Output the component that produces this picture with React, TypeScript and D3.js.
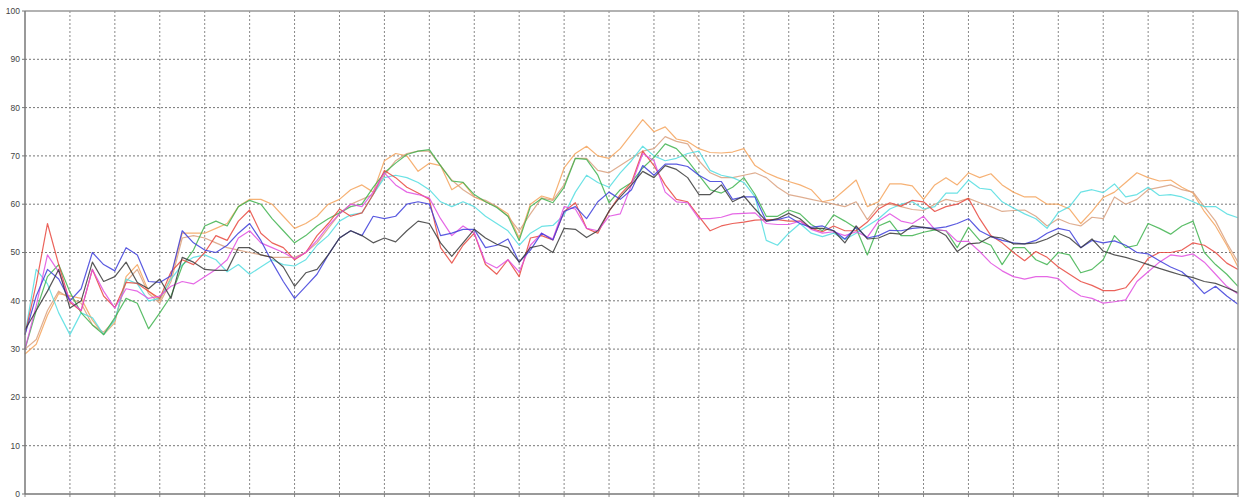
import React from "react";
import * as d3 from "d3";

const yTicks = [0, 10, 20, 30, 40, 50, 60, 70, 80, 90, 100];

const orange = [
  29, 31, 37, 41.5, 41, 40.5, 36, 33, 35.5, 45, 47.5, 42, 40,
  45, 54, 54, 54, 55, 56, 59.5, 61, 61, 60, 57.5, 55,
  56, 57.5, 60, 61, 63, 64, 62.5, 69, 70.5, 70, 66.8, 68.5, 68, 63, 64.5, 61.5,
  60.5, 59.5, 58, 53, 60, 61.7, 61, 67.5, 70.5, 72, 70, 69.5, 71.5, 74.5, 77.5, 75, 76,
  73.5, 73, 71.5, 70.7, 70.6, 70.8, 71.5, 68, 66.5, 65.5, 64.7, 64, 63, 60.5, 61, 63, 65,
  59.5, 60.5, 64.2, 64.2, 63.8, 61, 64, 65.5, 64, 66.5, 65.5, 66.3, 64, 62.5, 61.5, 61.5, 60, 60,
  59, 56, 58.5, 61.4, 62.5, 64.5, 66.5, 65.5, 64.8, 65, 63.5, 62.3, 58.5, 55.5, 51.5, 47,
];

const tan = [
  30, 32, 38, 42, 40.5, 39.5, 35, 33.5, 36, 44, 46.5, 41.5, 39.5,
  44, 53, 53.5, 53, 52, 51, 50.5, 50, 49.5, 49, 49, 49,
  50, 52, 55, 58, 60, 61, 62, 66, 69, 70.5, 71, 71, 68, 65, 63, 61.5,
  60.8, 59.5, 57.5, 54.5, 58, 61.3, 60.8, 64, 69.5, 69.5, 67, 66.5, 68, 69.5, 71, 71.5, 74,
  73, 72.5, 69, 66.5, 65.5, 65.5, 66, 66.5, 65.5, 63.5, 62, 61.5, 61, 60.5, 60, 59.5, 60.5,
  56.8, 59.8, 60, 59.5, 58.9, 58.7, 60, 61, 60.5, 61.2, 60.3, 59.5, 58.5, 58.7, 58.8, 57.5, 55.5, 57,
  56, 55.5, 57.3, 57, 61.5, 60, 61, 63, 63.5, 64, 63, 62.5, 59.5, 56.5, 52, 48,
];

const green = [
  30, 38, 45, 47.5, 41.8, 37.5, 35, 33, 36.5, 40.5, 39.5, 34.2, 37.5,
  41, 47.2, 50.5, 55.5, 56.5, 55.5, 59.5, 60.8, 60, 57, 54.5, 52,
  53.5, 55.5, 57, 58.2, 59.5, 60, 63.5, 66.5, 68.5, 70.3, 71, 71.3, 68, 64.8, 64.5, 62,
  60.5, 59.3, 57.5, 52.5, 59.5, 61.2, 60.3, 63.5, 69.5, 69.3, 66, 60.3, 63, 64.5, 67.5, 69.7, 72.5,
  71.5, 69, 66, 63, 62.3, 63.5, 65.5, 62, 57.5, 57.5, 58.8, 58, 55.8, 54.5, 57.8, 56.5, 55,
  49.5, 55.5, 56.5, 53.5, 53.5, 54.2, 54.7, 54.5, 51, 55.2, 52.5, 51.5, 47.5, 51, 51, 48.5, 47.5, 50,
  49.5, 45.8, 46.5, 48.5, 53.5, 51, 51.5, 56, 55, 53.8, 55.5, 56.5, 50, 47.5, 45.5, 43,
];

const cyan = [
  33, 46.5, 43.5, 37.5, 33, 37.5, 36.5, 33, 36, 44.5, 43.5, 40, 40.5,
  44.5, 47.5, 49, 49.5, 48.5, 46, 47.5, 45.5, 47, 48.5, 47.5, 47.2,
  48.5, 51.5, 53.5, 56.5, 57.8, 58.2, 62, 65.5, 66, 65.5, 64.5, 63, 60.5, 59.5, 60.5, 59.5,
  57.5, 56, 54.5, 51.5, 54, 55.4, 55.6, 57.8, 62.5, 66, 64.5, 63.5, 66.5, 69, 72, 70, 69,
  69.5, 70.5, 71, 67, 66, 65.5, 64.5, 61.5, 52.5, 51.5, 54, 56, 54, 53.3, 54, 52.7, 54,
  55.5, 57, 59, 60, 60.5, 59, 59.5, 62.3, 62.3, 65, 63.3, 63, 60.5, 59.2, 58, 57, 55, 58.3,
  59.5, 62.5, 63, 62.4, 64.2, 61.5, 62, 63.5, 61.8, 62, 61.5, 60.5, 59.5, 59.5, 58, 57.2,
];

const red = [
  33, 43.5, 56, 47.5, 39.7, 37.9, 46.5, 41, 38.6, 43.8, 43.6, 42, 40.5,
  46, 48.5, 47.5, 50, 53.5, 52.5, 56.5, 58.8, 54, 52, 51, 48.5,
  50, 53.5, 56, 59, 57.5, 58.2, 62, 67, 65.5, 63.5, 62.3, 61, 51, 47.8, 51.5, 54,
  47.5, 45.5, 48.5, 45, 53, 53.5, 52.6, 58.5, 60.3, 55, 54, 58.5, 62, 64.5, 71, 68, 64,
  61, 60.5, 57.5, 54.5, 55.5, 56, 56.3, 56.7, 56.8, 56.8, 56.5, 56.5, 55, 54.3, 55.5, 54.5, 54.5,
  56.3, 59, 60.3, 59.6, 60.8, 60.5, 58.5, 59.5, 60, 61.2, 57, 53.5, 52, 50, 48.3, 50.2, 49, 47,
  45.5, 44, 43.2, 42.1, 42.1, 42.7, 45.5, 48.8, 50, 50, 50.5, 52, 51.5, 50, 47.8, 46.5,
];

const magenta = [
  30, 39, 49.5, 46, 40, 38, 46.5, 42, 38.5, 42.5, 42, 40.5, 41,
  43, 44, 43.5, 45, 46.5, 48.5, 53, 54.5, 52, 51, 50, 48.7,
  50, 52.5, 55.5, 58, 60, 59.5, 62.5, 66.5, 64, 62.5, 62, 61.3, 57, 53.5, 55.5, 54,
  48, 46.8, 48.5, 46, 51.5, 54, 52.8, 59.5, 59, 55, 54.5, 57.5, 58, 64, 70.5, 69, 62.5,
  60.5, 60.3, 57, 57, 57.3, 58, 58.1, 58.2, 56, 55.8, 55.8, 56.5, 54.8, 54, 54.3, 53.5, 54.3,
  53.2, 56.5, 58, 56.5, 56, 57.5, 54.8, 54.5, 52.3, 52.3, 50.2, 47.8, 46.2, 45, 44.5, 45, 45, 44.6,
  42.5, 41, 40.5, 39.5, 39.8, 40.2, 44, 46, 48, 49.5, 49.2, 49.7, 48, 45.5, 43, 41.4,
];

const blue = [
  33, 41, 46.5, 44.5, 40, 42.5, 50, 47.5, 46.2, 51, 49.5, 44, 43.8,
  45.2, 54.5, 52, 50.5, 50, 51.5, 54, 56, 52.5, 48, 44, 40.5,
  43, 45.5, 49.5, 53, 54.5, 53.5, 57.5, 57, 57.5, 60, 60.5, 60, 53.5, 54, 54.8, 54.8,
  51, 51.5, 52.8, 48, 50.5, 54, 52.6, 58.5, 59.5, 57, 60.5, 62.5, 61, 63, 68, 66, 68.3,
  68.3, 67.8, 66, 64.7, 64.7, 61, 61.5, 61.5, 56.5, 56.8, 57.4, 56, 55.2, 55.5, 54.5, 52.8, 55.2,
  53, 53.5, 54.6, 54.5, 55, 55.2, 55, 55.3, 56, 57, 54.5, 53.3, 52.5, 52, 51.8, 52.5, 54, 55,
  54.5, 51, 52.5, 52, 52.4, 51.5, 50, 49.7, 48.3, 47, 46, 44, 41.5, 43, 41, 39.3,
];

const black = [
  34, 38, 42, 46.5, 38.5, 40, 48, 44, 45, 48, 43.8, 42.5, 44.5,
  40.5, 49, 48, 46.5, 46.3, 46.3, 51, 51, 49.5, 49, 47, 43,
  45.8, 46.5, 49.5, 53, 54.5, 53.5, 52, 53, 52.2, 54.5, 56.5, 56, 52, 49.2, 52, 54.8,
  53, 51.7, 51, 48, 51, 51.5, 50, 55, 54.8, 53.1, 54.5, 58.6, 61.5, 64, 66.8, 65.5, 68,
  67.2, 65.5, 62, 62, 64, 60.5, 61.7, 59, 56.5, 57, 58.1, 57, 55, 55, 54.5, 52, 55.5,
  52.8, 53, 54, 53.8, 55.5, 55.2, 54.8, 53.5, 50.2, 51.8, 52, 53.3, 53, 51.8, 51.8, 52, 52.8, 54,
  53, 51, 52.8, 50.3, 49.5, 49, 48.3, 47.5, 46.7, 46, 45.3, 44.8, 44, 43.6, 42.7, 41.7,
];

const seriesList = [
  { name: "orange", values: orange, color: "#f5a35c" },
  { name: "tan", values: tan, color: "#d9a07e" },
  { name: "cyan", values: cyan, color: "#52dde0" },
  { name: "green", values: green, color: "#3fb34f" },
  { name: "red", values: red, color: "#e8483e" },
  { name: "magenta", values: magenta, color: "#e04ee0" },
  { name: "blue", values: blue, color: "#3d3ddb" },
  { name: "black", values: black, color: "#3a3a3a" },
];

const W = 1247;
const H = 499;
const left = 25;
const right = 1238;
const top = 11;
const bottom = 494;
const nPoints = orange.length;

export default function App() {
  const x = d3.scaleLinear().domain([0, nPoints - 1]).range([left, right]);
  const y = d3.scaleLinear().domain([0, 100]).range([bottom, top]);
  const xGrid = d3.range(0, nPoints, 4);
  const line = d3
    .line<number>()
    .x((_, i) => x(i))
    .y((d) => y(d));

  return (
    <svg
      width={W}
      height={H}
      style={{ position: "absolute", left: 0, top: 0, background: "#fff" }}
      fontFamily="Liberation Sans, Arial, sans-serif"
    >
      <rect x={0} y={0} width={W} height={H} fill="#fff" />
      {yTicks.slice(1, -1).map((t) => (
        <line
          key={"h" + t}
          x1={left}
          x2={right}
          y1={y(t)}
          y2={y(t)}
          stroke="#777"
          strokeWidth={1}
          strokeDasharray="2,2"
        />
      ))}
      {xGrid.slice(1, -1).map((g) => (
        <line
          key={"v" + g}
          x1={x(g)}
          x2={x(g)}
          y1={top}
          y2={bottom}
          stroke="#888"
          strokeWidth={1}
          strokeDasharray="2,2"
        />
      ))}
      {xGrid.map((g) => (
        <line key={"bt" + g} x1={x(g)} x2={x(g)} y1={bottom} y2={bottom + 3} stroke="#888" strokeWidth={1} />
      ))}
      {seriesList.map((s) => (
        <path
          key={s.name}
          d={line(s.values) || ""}
          fill="none"
          stroke={s.color}
          strokeWidth={1.2}
          strokeLinejoin="round"
          strokeOpacity={0.85}
        />
      ))}
      <line x1={left} x2={right} y1={top} y2={top} stroke="#999" strokeWidth={1.5} />
      <line x1={right} x2={right} y1={top} y2={bottom} stroke="#999" strokeWidth={1.5} />
      <line x1={left} x2={right} y1={bottom} y2={bottom} stroke="#777" strokeWidth={1.5} />
      <line x1={left} x2={left} y1={top} y2={bottom} stroke="#777" strokeWidth={1.5} />
      {yTicks.map((t) => (
        <g key={"yt" + t}>
          <line x1={left - 3} x2={left} y1={y(t)} y2={y(t)} stroke="#777" strokeWidth={1} />
          <text x={left - 5} y={y(t)} dy="0.35em" textAnchor="end" fontSize={8.5} fill="#444">
            {t}
          </text>
        </g>
      ))}
    </svg>
  );
}
